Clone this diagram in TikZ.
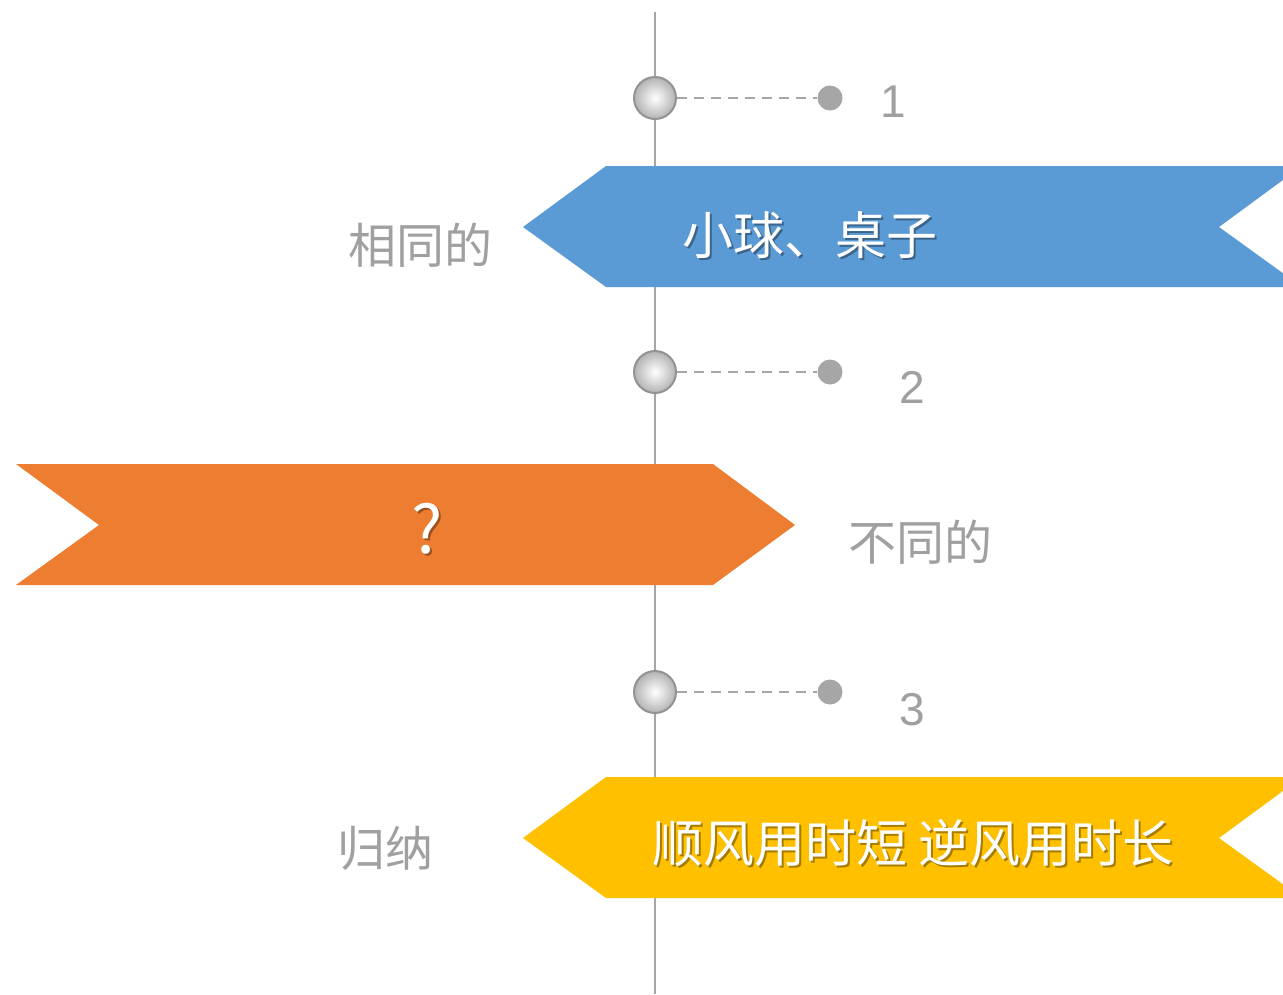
\documentclass[tikz,border=0pt]{standalone}
\usepackage{fontspec}
\setmainfont{Liberation Sans}
\newfontfamily\cjk{Noto Sans CJK SC}
\definecolor{lgray}{HTML}{A6A6A6}
\definecolor{bblue}{HTML}{5B9BD5}
\definecolor{borange}{HTML}{ED7D31}
\definecolor{byellow}{HTML}{FFC000}
\definecolor{tgray}{HTML}{A0A0A0}
\tikzset{
  axis/.style={draw=lgray, line width=1.5pt},
  knob/.style={circle, minimum size=42pt, inner sep=0pt, draw=gray!85, line width=2pt,
    inner color=white, outer color=gray!60},
  dot/.style={circle, minimum size=25pt, inner sep=0pt, fill=lgray},
  leader/.style={draw=lgray, line width=1.8pt, dash pattern=on 10pt off 7pt},
  num/.style={text=tgray, font=\fontsize{46}{50}\selectfont},
  side/.style={text=tgray, font=\cjk\fontsize{48}{56}\selectfont},
  bantext/.style={text=white, font=\cjk\fontsize{51}{58}\selectfont},
  banshadow/.style={text=black, opacity=0.35, font=\cjk\fontsize{51}{58}\selectfont},
  qtext/.style={text=white, font=\cjk\fontsize{66}{70}\selectfont},
  qshadow/.style={text=black, opacity=0.35, font=\cjk\fontsize{66}{70}\selectfont},
}
\begin{document}
\begin{tikzpicture}[x=1pt,y=-1pt]
\useasboundingbox (0,0) rectangle (1283,994);
\clip (0,0) rectangle (1283,994);
\fill[white] (0,0) rectangle (1283,994);
% axis
\coordinate (top) at (655,12);
\coordinate (bot) at (655,994);
\draw[axis] (top) -- (bot);
% banners
\fill[bblue] (1302,166) -- (606,166) -- (523,227) -- (606,287) -- (1302,287) -- (1219,227) -- cycle;
\fill[borange] (16,464) -- (713,464) -- (795,525) -- (713,585) -- (16,585) -- (99,525) -- cycle;
\fill[byellow] (1302,777) -- (606,777) -- (523,838) -- (606,898) -- (1302,898) -- (1219,838) -- cycle;
% knobs and leaders
\node[knob] (k1) at (655,98) {};
\node[dot] (d1) at (830,98) {};
\draw[leader] (k1) -- (d1);
\node[num] (n1) at (893,102) {1};
\node[knob] (k2) at (655,372) {};
\node[dot] (d2) at (830,372) {};
\draw[leader] (k2) -- (d2);
\node[num] (n2) at (912,387) {2};
\node[knob] (k3) at (655,692) {};
\node[dot] (d3) at (830,692) {};
\draw[leader] (k3) -- (d3);
\node[num] (n3) at (912,710) {3};
% side labels
\node[side] (s1) at (420,245) {相同的};
\node[side] (s2) at (920,542) {不同的};
\node[side] (s3) at (385,848) {归纳};
% banner texts
\node[banshadow] at (812,237) {小球、桌子};
\node[bantext] (b1) at (810,235) {小球、桌子};
\node[qshadow] at (429,531) {?};
\node[qtext] (b2) at (427,529) {?};
\node[banshadow] at (915,845) {顺风用时短 逆风用时长};
\node[bantext] (b3) at (913,843) {顺风用时短 逆风用时长};
\end{tikzpicture}
\end{document}
